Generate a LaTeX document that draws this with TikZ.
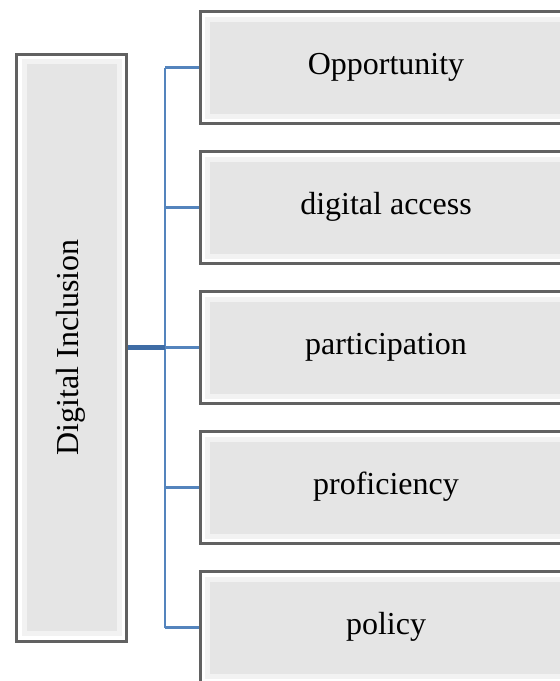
\documentclass[tikz,border=0pt]{standalone}
\usepackage{fontspec}
\setmainfont{Liberation Serif}
\usetikzlibrary{positioning, math, calc}
\definecolor{LinkBlue}{RGB}{84,132,189}
\definecolor{TrunkBlue}{RGB}{62,108,165}

\begin{document}
\begin{tikzpicture}[x=1pt, y=1pt]
		\tikzmath{
			\boxW       = 186;   %box width
			\boxH       = 56;    %box height
			\boxGap     = 12.5;  %distance between each box
			\mainW      = 293.5; %left box length (rotated)
			\mainH      = 55;    %left box thickness (rotated)
		}
		\tikzstyle{Base} = [
			text centered,
			draw=black!62,
			line width=1.5pt,
			fill=black!10,
			font=\fontsize{16}{19}\selectfont,
			text height=0.9em,
			text depth=0.2em,
			path picture={
				\draw[black!5, line width=10pt] (path picture bounding box.south west) rectangle (path picture bounding box.north east);
				\draw[white, line width=5pt] (path picture bounding box.south west) rectangle (path picture bounding box.north east);
			}
		]
		\tikzstyle{PartNode} = [
			minimum width=\boxW pt,
			minimum height=\boxH pt,
			Base
		]
		\tikzstyle{MainNode} = [
			rotate=90,
			minimum width=\mainW pt,
			minimum height=\mainH pt,
			Base
		]
		\tikzstyle{Link} = [
			draw=LinkBlue,
			line width=1.1pt
		]
		\tikzstyle{Trunk} = [
			draw=TrunkBlue,
			line width=2.8pt
		]
		\useasboundingbox (0,0) rectangle (280,-340.5);

		%%%%%%%%%%%%%%%%%%%%%%%%%%===---LEFT BOX---===%%%%%%%%%%%%%%%%%%%%%%%%%%
		\node (incl) [MainNode] at (35.75,-173.75) {Digital Inclusion};
		%%%%%%%%%%%%%%%%%%%%%%%%%%===---RIGHT BOXES---===%%%%%%%%%%%%%%%%%%%%%%%%%%
		\node (opp) [PartNode] at (193,-33.75) {Opportunity};
			\node (acc) [PartNode, below = \boxGap pt of opp] {digital access};
			\node (part) [PartNode, below = \boxGap pt of acc] {participation};
			\node (prof) [PartNode, below = \boxGap pt of part] {proficiency};
			\node (pol) [PartNode, below = \boxGap pt of prof] {policy};
		%%%%%%%%%%%%%%%%%%%%%%%%%%===---CONNECTORS---===%%%%%%%%%%%%%%%%%%%%%%%%%%
		\coordinate (spine) at (82.5,0);
		\draw [Link] (spine |- opp.west) -- (spine |- pol.west);
		\draw [Link] (spine |- opp.west) -- (opp.west);
		\draw [Link] (spine |- acc.west) -- (acc.west);
		\draw [Link] (spine |- part.west) -- (part.west);
		\draw [Link] (spine |- prof.west) -- (prof.west);
		\draw [Link] (spine |- pol.west) -- (pol.west);
		\draw [Trunk] (incl.south) -- (spine |- incl.south);

	\end{tikzpicture}
\end{document}
